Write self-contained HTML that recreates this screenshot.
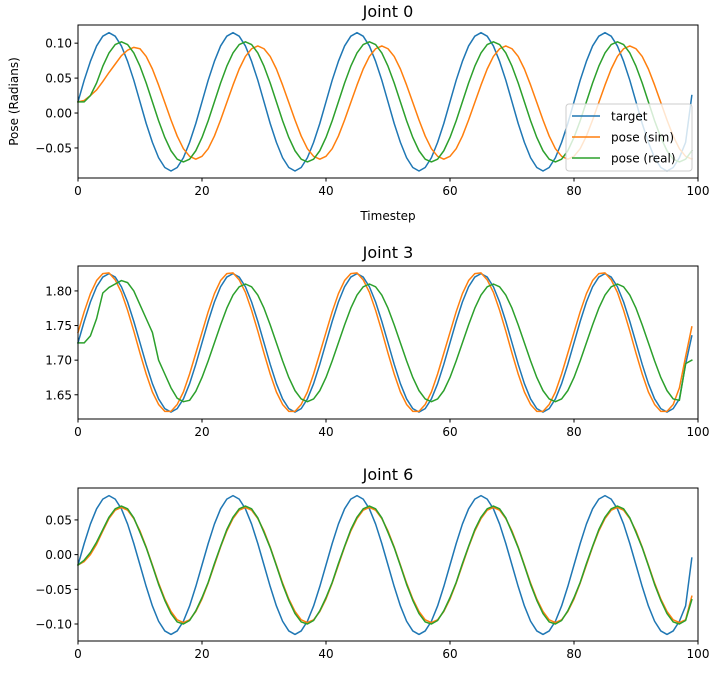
<!DOCTYPE html>
<html><head><meta charset="utf-8"><style>
body{margin:0;background:#fff;}
svg{display:block;font-family:"DejaVu Sans","Liberation Sans",sans-serif;}
</style></head><body>
<svg id="fig" width="714" height="676"></svg>
<script>
const timesteps = Array.from({length:100},(_,i)=>i);
const xTicks = [0,20,40,60,80,100];
const seriesNames = ["target","pose (sim)","pose (real)"];
const seriesColors = ["#1f77b4","#ff7f0e","#2ca02c"];

const j0Target = [.016,.047,.074,.096,.110,.115,.110,.096,.074,.047,.016,-.015,-.042,-.064,-.078,-.083,-.078,-.064,-.042,-.015,
.016,.047,.074,.096,.110,.115,.110,.096,.074,.047,.016,-.015,-.042,-.064,-.078,-.083,-.078,-.064,-.042,-.015,
.016,.047,.074,.096,.110,.115,.110,.096,.074,.047,.016,-.015,-.042,-.064,-.078,-.083,-.078,-.064,-.042,-.015,
.016,.047,.074,.096,.110,.115,.110,.096,.074,.047,.016,-.015,-.042,-.064,-.078,-.083,-.078,-.064,-.042,-.015,
.016,.047,.074,.096,.110,.115,.110,.096,.074,.047,.016,-.015,-.042,-.064,-.078,-.083,-.078,-.064,-.042,.025];
const j0Sim = [.016,.018,.025,.033,.045,.058,.070,.082,.090,.094,.092,.081,.063,.040,.015,-.010,-.033,-.051,-.062,-.066,
-.062,-.051,-.033,-.010,.015,.040,.063,.081,.092,.096,.092,.081,.063,.040,.015,-.010,-.033,-.051,-.062,-.066,
-.062,-.051,-.033,-.010,.015,.040,.063,.081,.092,.096,.092,.081,.063,.040,.015,-.010,-.033,-.051,-.062,-.066,
-.062,-.051,-.033,-.010,.015,.040,.063,.081,.092,.096,.092,.081,.063,.040,.015,-.010,-.033,-.051,-.062,-.066,
-.062,-.051,-.033,-.010,.015,.040,.063,.081,.092,.096,.092,.081,.063,.040,.015,-.010,-.033,-.051,-.062,-.066];
const j0Real = [.016,.016,.025,.043,.067,.086,.098,.102,.098,.086,.067,.043,.016,-.011,-.035,-.054,-.066,-.070,-.066,-.054,
-.035,-.011,.016,.043,.067,.086,.098,.102,.098,.086,.067,.043,.016,-.011,-.035,-.054,-.066,-.070,-.066,-.054,
-.035,-.011,.016,.043,.067,.086,.098,.102,.098,.086,.067,.043,.016,-.011,-.035,-.054,-.066,-.070,-.066,-.054,
-.035,-.011,.016,.043,.067,.086,.098,.102,.098,.086,.067,.043,.016,-.011,-.035,-.054,-.066,-.070,-.066,-.054,
-.035,-.011,.016,.043,.067,.086,.098,.102,.098,.086,.067,.043,.016,-.011,-.035,-.054,-.066,-.070,-.066,-.054];

const j3Target = [1.725,1.756,1.784,1.806,1.820,1.825,1.820,1.806,1.784,1.756,1.725,1.694,1.666,1.644,1.630,1.625,1.630,1.644,1.666,1.694,
1.725,1.756,1.784,1.806,1.820,1.825,1.820,1.806,1.784,1.756,1.725,1.694,1.666,1.644,1.630,1.625,1.630,1.644,1.666,1.694,
1.725,1.756,1.784,1.806,1.820,1.825,1.820,1.806,1.784,1.756,1.725,1.694,1.666,1.644,1.630,1.625,1.630,1.644,1.666,1.694,
1.725,1.756,1.784,1.806,1.820,1.825,1.820,1.806,1.784,1.756,1.725,1.694,1.666,1.644,1.630,1.625,1.630,1.644,1.666,1.694,
1.725,1.756,1.784,1.806,1.820,1.825,1.820,1.806,1.784,1.756,1.725,1.694,1.666,1.644,1.630,1.625,1.630,1.644,1.694,1.735];
const j3Sim = [1.740,1.770,1.796,1.815,1.825,1.826,1.816,1.798,1.772,1.742,1.710,1.680,1.654,1.636,1.626,1.626,1.636,1.654,1.680,1.710,
1.740,1.770,1.796,1.815,1.825,1.826,1.816,1.798,1.772,1.742,1.710,1.680,1.654,1.636,1.626,1.626,1.636,1.654,1.680,1.710,
1.740,1.770,1.796,1.815,1.825,1.826,1.816,1.798,1.772,1.742,1.710,1.680,1.654,1.636,1.626,1.626,1.636,1.654,1.680,1.710,
1.740,1.770,1.796,1.815,1.825,1.826,1.816,1.798,1.772,1.742,1.710,1.680,1.654,1.636,1.626,1.626,1.636,1.654,1.680,1.710,
1.740,1.770,1.796,1.815,1.825,1.826,1.816,1.798,1.772,1.742,1.710,1.680,1.654,1.636,1.626,1.626,1.636,1.660,1.705,1.748];
const j3Real = [1.725,1.725,1.735,1.760,1.797,1.805,1.810,1.815,1.812,1.800,1.780,1.760,1.740,1.700,1.680,1.660,1.645,1.640,1.642,1.655,
1.675,1.699,1.725,1.751,1.775,1.794,1.806,1.810,1.806,1.794,1.775,1.751,1.725,1.699,1.675,1.656,1.644,1.640,1.644,1.656,
1.675,1.699,1.725,1.751,1.775,1.794,1.806,1.810,1.806,1.794,1.775,1.751,1.725,1.699,1.675,1.656,1.644,1.640,1.644,1.656,
1.675,1.699,1.725,1.751,1.775,1.794,1.806,1.810,1.806,1.794,1.775,1.751,1.725,1.699,1.675,1.656,1.644,1.640,1.644,1.656,
1.675,1.699,1.725,1.751,1.775,1.794,1.806,1.810,1.806,1.794,1.775,1.751,1.725,1.699,1.675,1.656,1.644,1.642,1.695,1.700];

const j6Target = [-.015,.016,.044,.066,.080,.085,.080,.066,.044,.016,-.015,-.046,-.074,-.096,-.110,-.115,-.110,-.096,-.074,-.046,
-.015,.016,.044,.066,.080,.085,.080,.066,.044,.016,-.015,-.046,-.074,-.096,-.110,-.115,-.110,-.096,-.074,-.046,
-.015,.016,.044,.066,.080,.085,.080,.066,.044,.016,-.015,-.046,-.074,-.096,-.110,-.115,-.110,-.096,-.074,-.046,
-.015,.016,.044,.066,.080,.085,.080,.066,.044,.016,-.015,-.046,-.074,-.096,-.110,-.115,-.110,-.096,-.074,-.046,
-.015,.016,.044,.066,.080,.085,.080,.066,.044,.016,-.015,-.046,-.074,-.096,-.110,-.115,-.110,-.096,-.074,-.005];
const j6Sim = [-.015,-.010,.000,.015,.034,.052,.064,.068,.064,.052,.034,.011,-.015,-.041,-.064,-.082,-.094,-.098,-.094,-.082,
-.064,-.041,-.015,.011,.034,.052,.064,.068,.064,.052,.034,.011,-.015,-.041,-.064,-.082,-.094,-.098,-.094,-.082,
-.064,-.041,-.015,.011,.034,.052,.064,.068,.064,.052,.034,.011,-.015,-.041,-.064,-.082,-.094,-.098,-.094,-.082,
-.064,-.041,-.015,.011,.034,.052,.064,.068,.064,.052,.034,.011,-.015,-.041,-.064,-.082,-.094,-.098,-.094,-.082,
-.064,-.041,-.015,.011,.034,.052,.064,.068,.064,.052,.034,.011,-.015,-.041,-.064,-.082,-.094,-.098,-.094,-.060];
const j6Real = [-.015,-.008,.003,.018,.036,.054,.066,.070,.066,.053,.032,.010,-.016,-.043,-.066,-.085,-.097,-.100,-.095,-.081,
-.062,-.040,-.013,.012,.036,.054,.066,.070,.066,.053,.032,.010,-.016,-.043,-.066,-.085,-.097,-.100,-.095,-.081,
-.062,-.040,-.013,.012,.036,.054,.066,.070,.066,.053,.032,.010,-.016,-.043,-.066,-.085,-.097,-.100,-.095,-.081,
-.062,-.040,-.013,.012,.036,.054,.066,.070,.066,.053,.032,.010,-.016,-.043,-.066,-.085,-.097,-.100,-.095,-.081,
-.062,-.040,-.013,.012,.036,.054,.066,.070,.066,.053,.032,.010,-.016,-.043,-.066,-.085,-.097,-.100,-.095,-.065];

const j0Ticks = [-0.05,0.00,0.05,0.10];
const j3Ticks = [1.65,1.70,1.75,1.80];
const j6Ticks = [-0.10,-0.05,0.00,0.05];

const NS="http://www.w3.org/2000/svg";
const svg=document.getElementById('fig');
function mk(tag,attrs,parent,text){const e=document.createElementNS(NS,tag);for(const k in attrs)e.setAttribute(k,attrs[k]);if(text!==undefined)e.textContent=text;(parent||svg).appendChild(e);return e;}
function fmt(v){const s=Math.abs(v).toFixed(2);return (v<-1e-9?"\u2212":"")+s;}

const panels=[
 {name:"joint-0",title:"Joint 0",top:25,bottom:178,ymin:-0.093,ymax:0.126,ticks:j0Ticks,data:[j0Target,j0Sim,j0Real],legend:true,xlabel:true},
 {name:"joint-3",title:"Joint 3",top:266,bottom:419,ymin:1.615,ymax:1.836,ticks:j3Ticks,data:[j3Target,j3Sim,j3Real]},
 {name:"joint-6",title:"Joint 6",top:488,bottom:641,ymin:-0.1245,ymax:0.096,ticks:j6Ticks,data:[j6Target,j6Sim,j6Real]}
];
const L=78,R=698;
const xs=v=>L+(v-0)/(100-0)*(R-L);

panels.forEach(p=>{
 const g=mk('g',{});
 
 
 const ys=v=>p.bottom-(v-p.ymin)/(p.ymax-p.ymin)*(p.bottom-p.top);
 const t=mk('text',{x:(L+R)/2,y:p.top-8,'text-anchor':'middle','font-size':16,fill:'#000'},g,p.title);
 
 
 p.data.forEach((arr,si)=>{
  const d=arr.map((v,i)=>(i?'L':'M')+xs(timesteps[i]).toFixed(2)+','+ys(v).toFixed(2)).join(' ');
  const path=mk('path',{d:d,fill:'none',stroke:seriesColors[si],'stroke-width':1.5,'stroke-linejoin':'round','stroke-linecap':'square'},g);
  
  
 });
 const frame=mk('rect',{x:L,y:p.top,width:R-L,height:p.bottom-p.top,fill:'none',stroke:'#000','stroke-width':1},g);
 
 
 xTicks.forEach(v=>{
  const x=xs(v);
  mk('line',{x1:x,x2:x,y1:p.bottom,y2:p.bottom+3.5,stroke:'#000','stroke-width':1},g);
  const tl=mk('text',{x:x,y:p.bottom+17,'text-anchor':'middle','font-size':12,fill:'#000'},g,String(v));
  
  
 });
 p.ticks.forEach(v=>{
  const y=ys(v);
  mk('line',{x1:L-3.5,x2:L,y1:y,y2:y,stroke:'#000','stroke-width':1},g);
  const tl=mk('text',{x:L-6,y:y+4.5,'text-anchor':'end','font-size':12,fill:'#000'},g,fmt(v));
  
  
 });
 if(p.xlabel){
  const xl=mk('text',{x:(L+R)/2,y:220,'text-anchor':'middle','font-size':12,fill:'#000'},g,'Timestep');
  
  
  const yl=mk('text',{x:0,y:0,'text-anchor':'middle','font-size':12,fill:'#000',transform:'translate(18,'+((p.top+p.bottom)/2)+') rotate(-90)'},g,'Pose (Radians)');
  
  
 }
 if(p.legend){
  const lg=mk('g',{},g);
  
  
  mk('rect',{x:566,y:104,width:126,height:67,rx:3,fill:'#fff','fill-opacity':0.8,stroke:'#ccc','stroke-width':1},lg);
  seriesNames.forEach((n,i)=>{
   const y=116+i*21;
   const e=mk('g',{},lg);
   
   
   mk('line',{x1:572,x2:600,y1:y,y2:y,stroke:seriesColors[i],'stroke-width':1.5},e);
   mk('text',{x:611,y:y+4.5,'font-size':12,fill:'#000'},e,n);
  });
 }
});
</script>
</body></html>
